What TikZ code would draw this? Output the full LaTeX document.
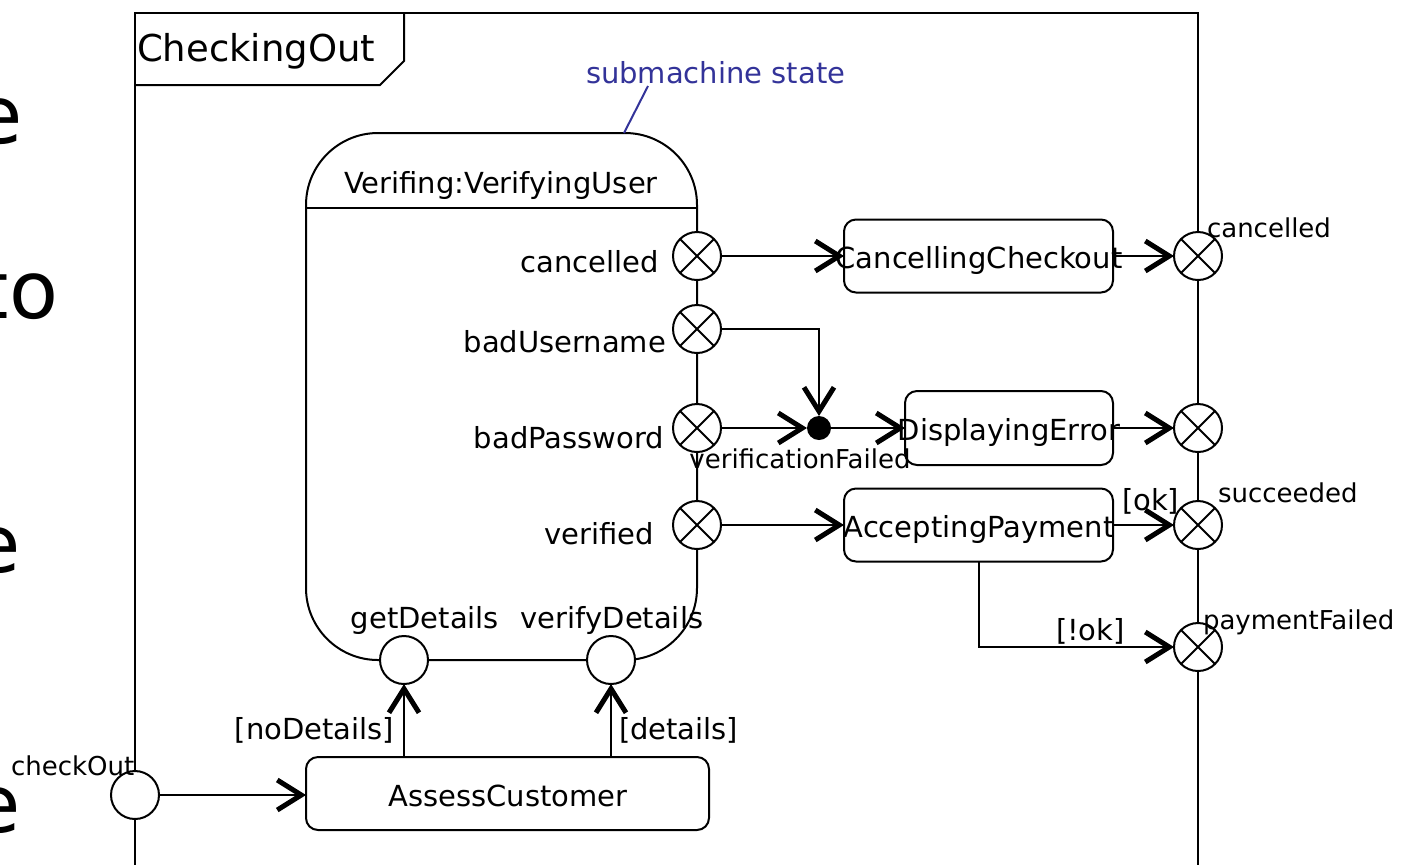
\documentclass[tikz,border=0pt]{standalone}
\usepackage{fontspec}
\setmainfont{DejaVu Sans}
\usetikzlibrary{arrows.meta}
\definecolor{noteblue}{RGB}{51,51,153}

\begin{document}
\begin{tikzpicture}[x=0.5pt, y=-0.5pt, line width=1pt,
  every node/.style={inner sep=0pt, outer sep=0pt},
  txt/.style={font=\fontsize{14.5}{17}\selectfont},
  smalltxt/.style={font=\fontsize{13}{15}\selectfont},
  titletxt/.style={font=\fontsize{18.5}{22}\selectfont},
  bigtxt/.style={font=\fontsize{40}{48}\selectfont},
  exitpt/.style={circle, draw, fill=white, minimum size=24pt,
    path picture={\draw (path picture bounding box.north west) -- (path picture bounding box.south east)
                        (path picture bounding box.north east) -- (path picture bounding box.south west);}},
  entrypt/.style={circle, draw, fill=white, minimum size=24pt},
  junction/.style={circle, fill=black, minimum size=12pt},
  statebox/.style={draw, rounded corners=6pt},
  flow/.style={-{Straight Barb[length=12pt, width=15pt, line width=2.5pt]}},
]
\useasboundingbox (0,0) rectangle (1402,864);
\clip (0,0) rectangle (1402,864);

% large text running in from the left
\node[bigtxt, anchor=base east] (fragA) at (23,143) {e};
\node[bigtxt, anchor=base east] (fragB) at (58,318) {to};
\node[bigtxt, anchor=base east] (fragC) at (21,572) {e};
\node[bigtxt, anchor=base east] (fragD) at (21,832) {e};

% frame of the CheckingOut state machine
\draw (135,900) -- (135,13) -- (1198,13) -- (1198,900);
\draw (135,85) -- (380,85) -- (404,61) -- (404,13);
\node[titletxt, anchor=base west] (title) at (137,61) {CheckingOut};

% submachine state
\node[draw, rounded corners=36pt, minimum width=195.5pt, minimum height=263.5pt] (verifying) at (501.5,396.5) {};
\draw (verifying.west |- 0,208) -- (verifying.east |- 0,208);
\node[txt, anchor=base] (verifyingT) at (501,193) {Verifing:VerifyingUser};

% note
\node[txt, anchor=base west, text=noteblue] (note) at (586,83) {submachine state};
\coordinate (noteFoot) at (648,86);
\coordinate (noteTip) at (624,133);
\draw[noteblue] (noteFoot) -- (noteTip);

% exit and entry points of the submachine state
\node[exitpt] (sCan) at (697,256) {};
\node[exitpt] (sBadU) at (697,329) {};
\node[exitpt] (sBadP) at (697,428) {};
\node[exitpt] (sVer) at (697,525) {};
\node[entrypt] (getD) at (404,660) {};
\node[entrypt] (verD) at (611,660) {};

\node[txt, anchor=base east] (sCanT) at (659,272) {cancelled};
\node[txt, anchor=base east] (sBadUT) at (666,352) {badUsername};
\node[txt, anchor=base east] (sBadPT) at (664,448) {badPassword};
\node[txt, anchor=base east] (sVerT) at (654,544) {verified};
\node[txt, anchor=base] (getDT) at (425,628) {getDetails};
\node[txt, anchor=base] (verDT) at (612,628) {verifyDetails};

% states
\node[statebox, minimum width=134.5pt, minimum height=36.5pt] (cancelling) at (978.5,256) {};
\node[statebox, minimum width=104pt, minimum height=37pt] (displaying) at (1009,428) {};
\node[statebox, minimum width=134.5pt, minimum height=36.5pt] (accepting) at (978.5,525) {};
\node[statebox, minimum width=201.5pt, minimum height=36.5pt] (assess) at (507.5,793.5) {};

\node[txt, anchor=base] (cancellingT) at (979,268) {CancellingCheckout};
\node[txt, anchor=base] (displayingT) at (1009,440) {DisplayingError};
\node[txt, anchor=base] (acceptingT) at (979,537) {AcceptingPayment};
\node[txt, anchor=base] (assessT) at (508,806) {AssessCustomer};

% junction
\node[junction] (junc) at (819,428) {};
\node[smalltxt, anchor=base] (juncT) at (800,468) {verificationFailed};

% entry and exit points of the frame
\node[entrypt] (checkOut) at (135,795) {};
\node[smalltxt, anchor=base west] (checkOutT) at (11,775) {checkOut};
\node[exitpt] (fCan) at (1198,256) {};
\node[exitpt] (fErr) at (1198,428) {};
\node[exitpt] (fSuc) at (1198,525) {};
\node[exitpt] (fPay) at (1198,647) {};
\node[smalltxt, anchor=base west] (fCanT) at (1207,237) {cancelled};
\node[smalltxt, anchor=base west] (fSucT) at (1218,502) {succeeded};
\node[smalltxt, anchor=base west] (fPayT) at (1203,629) {paymentFailed};

% transitions
\draw[flow] (checkOut.east) -- (checkOut.east -| assess.west);
\draw[flow] (assess.north -| getD.south) -- (getD.south);
\draw[flow] (assess.north -| verD.south) -- (verD.south);
\node[txt, anchor=base east] (noDetT) at (394,739) {[noDetails]};
\node[txt, anchor=base west] (detT) at (619,739) {[details]};

\draw[flow] (sCan.east) -- (sCan.east -| cancelling.west);
\draw[flow] (cancelling.east) -- (fCan.west);
\draw[flow] (sBadU.east) -| (junc.north);
\draw[flow] (sBadP.east) -- (junc.west);
\draw[flow] (junc.east) -- (displaying.west);
\draw[flow] (displaying.east) -- (fErr.west);
\draw[flow] (sVer.east) -- (accepting.west);
\draw[flow] (accepting.east) -- (fSuc.west);
\draw[flow] (accepting.south) |- (fPay.west);
\node[txt, anchor=base west] (okT) at (1122,510) {[ok]};
\node[txt, anchor=base west] (notOkT) at (1056,640) {[!ok]};
\end{tikzpicture}
\end{document}
